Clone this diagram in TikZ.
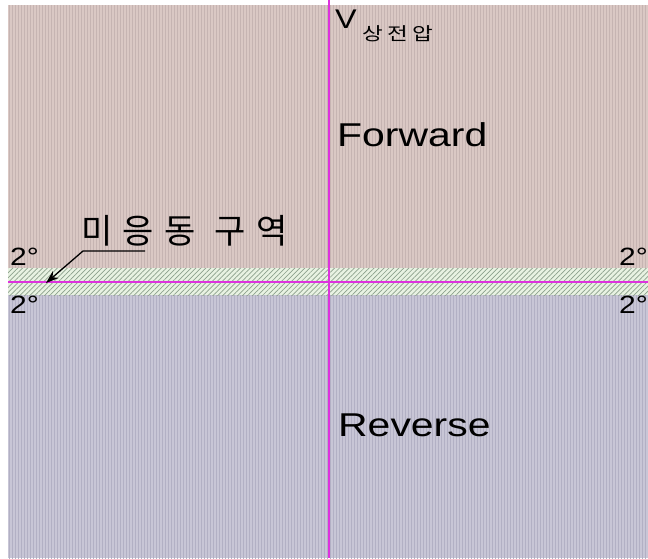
\documentclass[tikz,border=0pt]{standalone}
\usepackage{fontspec}
\usetikzlibrary{patterns.meta,arrows.meta}
\newfontfamily\lbl{Liberation Sans}[FakeStretch=1.2]
\newfontfamily\lblwide{Liberation Sans}[FakeStretch=1.24]
\newfontfamily\kor{Noto Sans CJK KR}[LetterSpace=31]
\newfontfamily\korsub{Noto Sans CJK KR}[LetterSpace=25,FakeStretch=1.25]
\definecolor{fwdbase}{RGB}{218,200,196}
\definecolor{fwdline}{RGB}{198,180,178}
\definecolor{revbase}{RGB}{200,198,214}
\definecolor{revline}{RGB}{178,176,196}
\definecolor{bandbase}{RGB}{232,242,226}
\definecolor{bandline}{RGB}{140,160,140}
\definecolor{axis}{RGB}{222,50,222}
\tikzset{
  deg/.style={font=\lbl\fontsize{25}{28}\selectfont, inner sep=0pt, anchor=base west},
  zone/.style={font=\lblwide\fontsize{33}{36}\selectfont, inner sep=0pt, anchor=base west},
  axisline/.style={axis, line width=2pt},
  leader/.style={line width=1.3pt, -{Stealth[length=13pt,width=9pt]}}
}
\begin{document}
\begin{tikzpicture}[x=1pt,y=-1pt]
  \clip (0,0) rectangle (648,558);
  \fill[white] (0,0) rectangle (648,558);
  \fill[fwdbase] (8,5) rectangle (648,268);
  \fill[pattern={Lines[angle=90,distance=3pt,line width=1pt]}, pattern color=fwdline] (8,5) rectangle (648,268);
  \fill[revbase] (8,295) rectangle (648,558);
  \fill[pattern={Lines[angle=90,distance=3pt,line width=1pt]}, pattern color=revline] (8,295) rectangle (648,558);
  \fill[bandbase] (8,268) rectangle (648,295);
  \fill[pattern={Lines[angle=45,distance=3.5pt,line width=0.7pt]}, pattern color=bandline] (8,268) rectangle (648,295);
  \coordinate (vtop) at (329,0);
  \coordinate (vbot) at (329,558);
  \coordinate (hleft) at (8,282);
  \coordinate (hright) at (648,282);
  \draw[axisline] (vtop) -- (vbot);
  \draw[axisline] (hleft) -- (hright);
  \node (vlab) [font=\lbl\fontsize{27}{29}\selectfont, inner sep=0pt, anchor=base west] at (335,28) {V};
  \node (vsub) [font=\korsub\fontsize{18}{20}\selectfont, inner sep=0pt, anchor=base west] at (362,40) {상전압};
  \node (fwd) [zone] at (337,146) {Forward};
  \node (rev) [zone] at (338,436) {Reverse};
  \node (degul) [deg] at (10,265) {2°};
  \node (degll) [deg] at (10,313) {2°};
  \node (degur) [deg] at (619,265) {2°};
  \node (deglr) [deg] at (619,313) {2°};
  \node (dead) [font=\kor\fontsize{34}{36}\selectfont, inner sep=0pt, anchor=base west] at (81,243) {미응동 구역};
  \coordinate (kneeR) at (145,251);
  \coordinate (knee) at (83,251);
  \coordinate (tip) at (46,283);
  \draw[leader] (kneeR) -- (knee) -- (tip);
\end{tikzpicture}
\end{document}
